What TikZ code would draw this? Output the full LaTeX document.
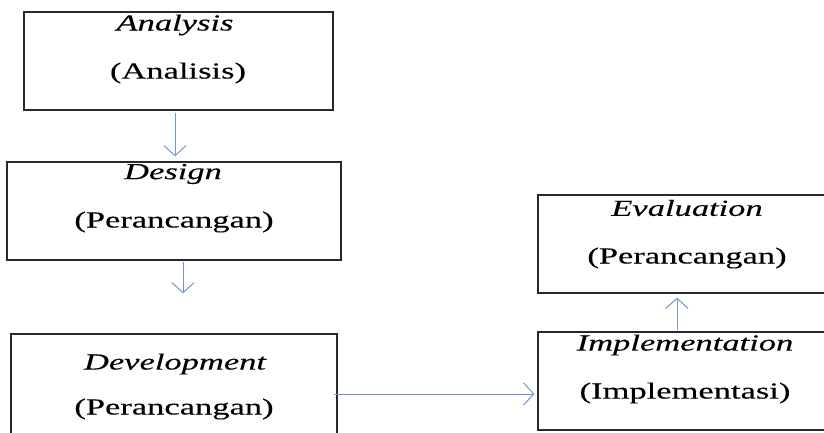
\documentclass[tikz,border=0pt]{standalone}
\usepackage{fontspec}
\setmainfont{Liberation Serif}[FakeBold=0.2]
\usetikzlibrary{arrows.meta}
\definecolor{arr}{RGB}{110,150,208}
\definecolor{bx}{RGB}{40,40,40}
\newcommand{\widetxt}[1]{\scalebox{1.5}[1]{#1}}
\begin{document}
\begin{tikzpicture}[x=1pt,y=-1pt,
  box/.style={draw=bx,line width=1.3pt,rectangle,inner sep=0pt},
  lbl/.style={font=\fontsize{23}{23}\selectfont,inner sep=0pt,text=black},
  flow/.style={draw=arr,line width=1pt,-{Straight Barb[length=10pt,width=22pt,line width=1pt]}}]
\useasboundingbox (0,0) rectangle (824,432);
\clip (0,0) rectangle (824,432);
\fill[white] (0,0) rectangle (824,432);
% boxes
\node[box,minimum width=309pt,minimum height=98pt] (an) at (178.5,61) {};
\node[box,minimum width=334pt,minimum height=98pt] (de) at (174,211) {};
\node[box,minimum width=326pt,minimum height=118pt] (dv) at (174,393) {};
\node[box,minimum width=302pt,minimum height=98pt] (ev) at (689,244) {};
\node[box,minimum width=302pt,minimum height=98pt] (im) at (689,381) {};
% labels
\node[lbl] (an1) at (175,25) {\widetxt{\itshape Analysis}};
\node[lbl] (an2) at (178,73) {\widetxt{(Analisis)}};
\node[lbl] (de1) at (173,174) {\widetxt{\itshape Design}};
\node[lbl] (de2) at (174,222) {\widetxt{(Perancangan)}};
\node[lbl] (dv1) at (175,364) {\widetxt{\itshape Development}};
\node[lbl] (dv2) at (174,409) {\widetxt{(Perancangan)}};
\node[lbl] (ev1) at (687,208) {\widetxt{\itshape Evaluation}};
\node[lbl] (ev2) at (687,258) {\widetxt{(Perancangan)}};
\node[lbl] (im1) at (685,345) {\widetxt{\itshape Implementation}};
\node[lbl] (im2) at (685,393) {\widetxt{(Implementasi)}};
% connectors
\draw[flow] ([xshift=-3.5pt,yshift=-2pt]an.south) -- ([xshift=1pt,yshift=5pt]de.north);
\draw[flow] ([xshift=9pt,yshift=-1pt]de.south) -- ([xshift=9pt,yshift=40pt]dv.north);
\draw[flow] ([xshift=-4pt,yshift=-1pt]dv.east) -- ([xshift=-3pt,yshift=-13pt]im.west);
\draw[flow] ([xshift=-12pt,yshift=1pt]im.north) -- ([xshift=-12pt,yshift=-4pt]ev.south);
\end{tikzpicture}
\end{document}
